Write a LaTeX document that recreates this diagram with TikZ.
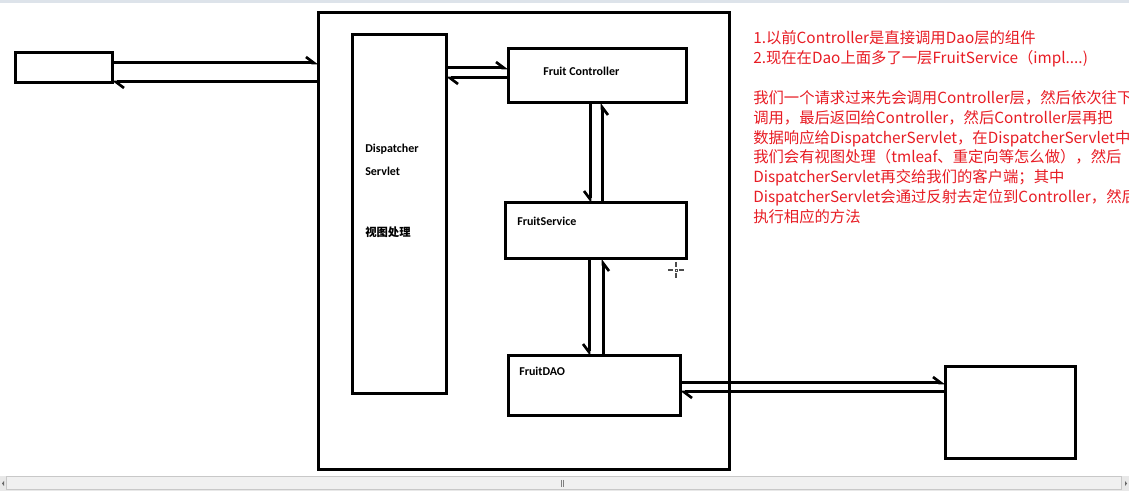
\documentclass[tikz,border=0pt]{standalone}
\usepackage{fontspec}
\newfontfamily\cjk{Noto Sans CJK SC}
\newfontfamily\lab{Carlito}[BoldFont={Carlito Bold}]
\usetikzlibrary{arrows.meta}
\definecolor{notered}{RGB}{232,28,36}
\definecolor{barbg}{RGB}{232,232,232}
\definecolor{barline}{RGB}{200,200,200}
\definecolor{thumb}{RGB}{240,240,240}
\definecolor{topstrip}{RGB}{221,227,234}
\tikzset{
  box/.style={draw=black, line width=2.25pt, fill=white, inner sep=0pt, outer sep=0pt},
  conn/.style={draw=black, line width=2.25pt},
  harpL/.style={-{Straight Barb[left, length=6pt, width=9pt, line width=2pt]}},
  harpR/.style={-{Straight Barb[right, length=6pt, width=9pt, line width=2pt]}},
  lbl/.style={anchor=west, inner sep=0pt, font=\lab\bfseries\fontsize{9}{11}\selectfont},
  lblc/.style={anchor=west, inner sep=0pt, font=\cjk\bfseries\fontsize{8.5}{10}\selectfont},
  note/.style={anchor=base west, inner sep=0pt, text=notered, font=\cjk\fontsize{11.5}{15}\selectfont}
}
\begin{document}
\begin{tikzpicture}[x=0.75pt, y=-0.75pt]
\useasboundingbox (0,0) rectangle (1129,491);
\fill[white] (0,0) rectangle (1129,491);
% window strips
\fill[topstrip] (0,0) rectangle (1129,3);
% boxes
\node[box, minimum width=308.25pt, minimum height=342.75pt] (big) at (523.5,241.5) {};
\node[box, minimum width=72.75pt, minimum height=22.5pt] (client) at (63.5,68) {};
\node[box, minimum width=70.5pt, minimum height=269.25pt] (disp) at (399,214.5) {};
\node[box, minimum width=133.5pt, minimum height=40.5pt] (fc) at (597,76) {};
\node[box, minimum width=135.75pt, minimum height=42pt] (fs) at (595.5,231) {};
\node[box, minimum width=129pt, minimum height=45pt] (dao) at (594,386) {};
\node[box, minimum width=97.5pt, minimum height=69pt] (db) at (1010,413) {};
% labels
\node[lbl] (lfc) at (543,71) {Fruit Controller};
\node[lbl] (lfs) at (517,221) {FruitService};
\node[lbl] (ldao) at (519,371) {FruitDAO};
\node[lbl] (ld1) at (365,149) {Dispatcher};
\node[lbl] (ld2) at (365,171) {Servlet};
\node[lblc] (ld3) at (365,232) {视图处理};
% connectors
\draw[conn, harpL] (client.east |- 0,63) -- (big.west |- 0,63);
\draw[conn, harpL] (big.west |- 0,82) -- (client.east |- 0,82);
\draw[conn, harpL] (disp.east |- 0,68) -- (fc.west |- 0,68);
\draw[conn, harpL] (fc.west |- 0,78) -- (disp.east |- 0,78);
\draw[conn, harpR] (fc.south -| 590,0) -- (fs.north -| 590,0);
\draw[conn, harpR] (fs.north -| 602,0) -- (fc.south -| 602,0);
\draw[conn, harpR] (fs.south -| 589,0) -- (dao.north -| 589,0);
\draw[conn, harpR] (dao.north -| 603,0) -- (fs.south -| 603,0);
\draw[conn, harpL] (dao.east |- 0,383) -- (db.west |- 0,383);
\draw[conn, harpL] (db.west |- 0,392) -- (dao.east |- 0,392);
% notes
\node[note] (n1) at (753,43.5) {1.以前Controller是直接调用Dao层的组件};
\node[note] (n2) at (753,63.5) {2.现在在Dao上面多了一层FruitService（impl....)};
\node[note] (n3) at (753,103.5) {我们一个请求过来先会调用Controller层，然后依次往下};
\node[note] (n4) at (753,123.3) {调用，最后返回给Controller，然后Controller层再把};
\node[note] (n5) at (753,143.1) {数据响应给DispatcherServlet，在DispatcherServlet中};
\node[note] (n6) at (753,162.9) {我们会有视图处理（tmleaf、重定向等怎么做），然后};
\node[note] (n7) at (753,182.7) {DispatcherServlet再交给我们的客户端；其中};
\node[note] (n8) at (753,202.5) {DispatcherServlet会通过反射去定位到Controller，然后};
\node[note] (n9) at (753,222.3) {执行相应的方法};
% cursor
\draw[black!70, line width=0.8pt] (668,270) -- (673,270) (679,270) -- (684,270) (676,262) -- (676,267) (676,273) -- (676,278);
\draw[black!70, line width=0.6pt] (675,269) rectangle (677,271);
% scrollbar
\fill[barbg] (0,476) rectangle (1129,491);
\draw[barline, line width=0.75pt, fill=thumb] (6,477) rectangle (1121,490);
\draw[black!50, line width=0.6pt] (561,480) -- (561,487) (563.5,480) -- (563.5,487);
\fill[black!60] (2,483.5) -- (4,481) -- (4,486) -- cycle;
\fill[black!60] (1127,483.5) -- (1125,481) -- (1125,486) -- cycle;
\end{tikzpicture}
\end{document}
